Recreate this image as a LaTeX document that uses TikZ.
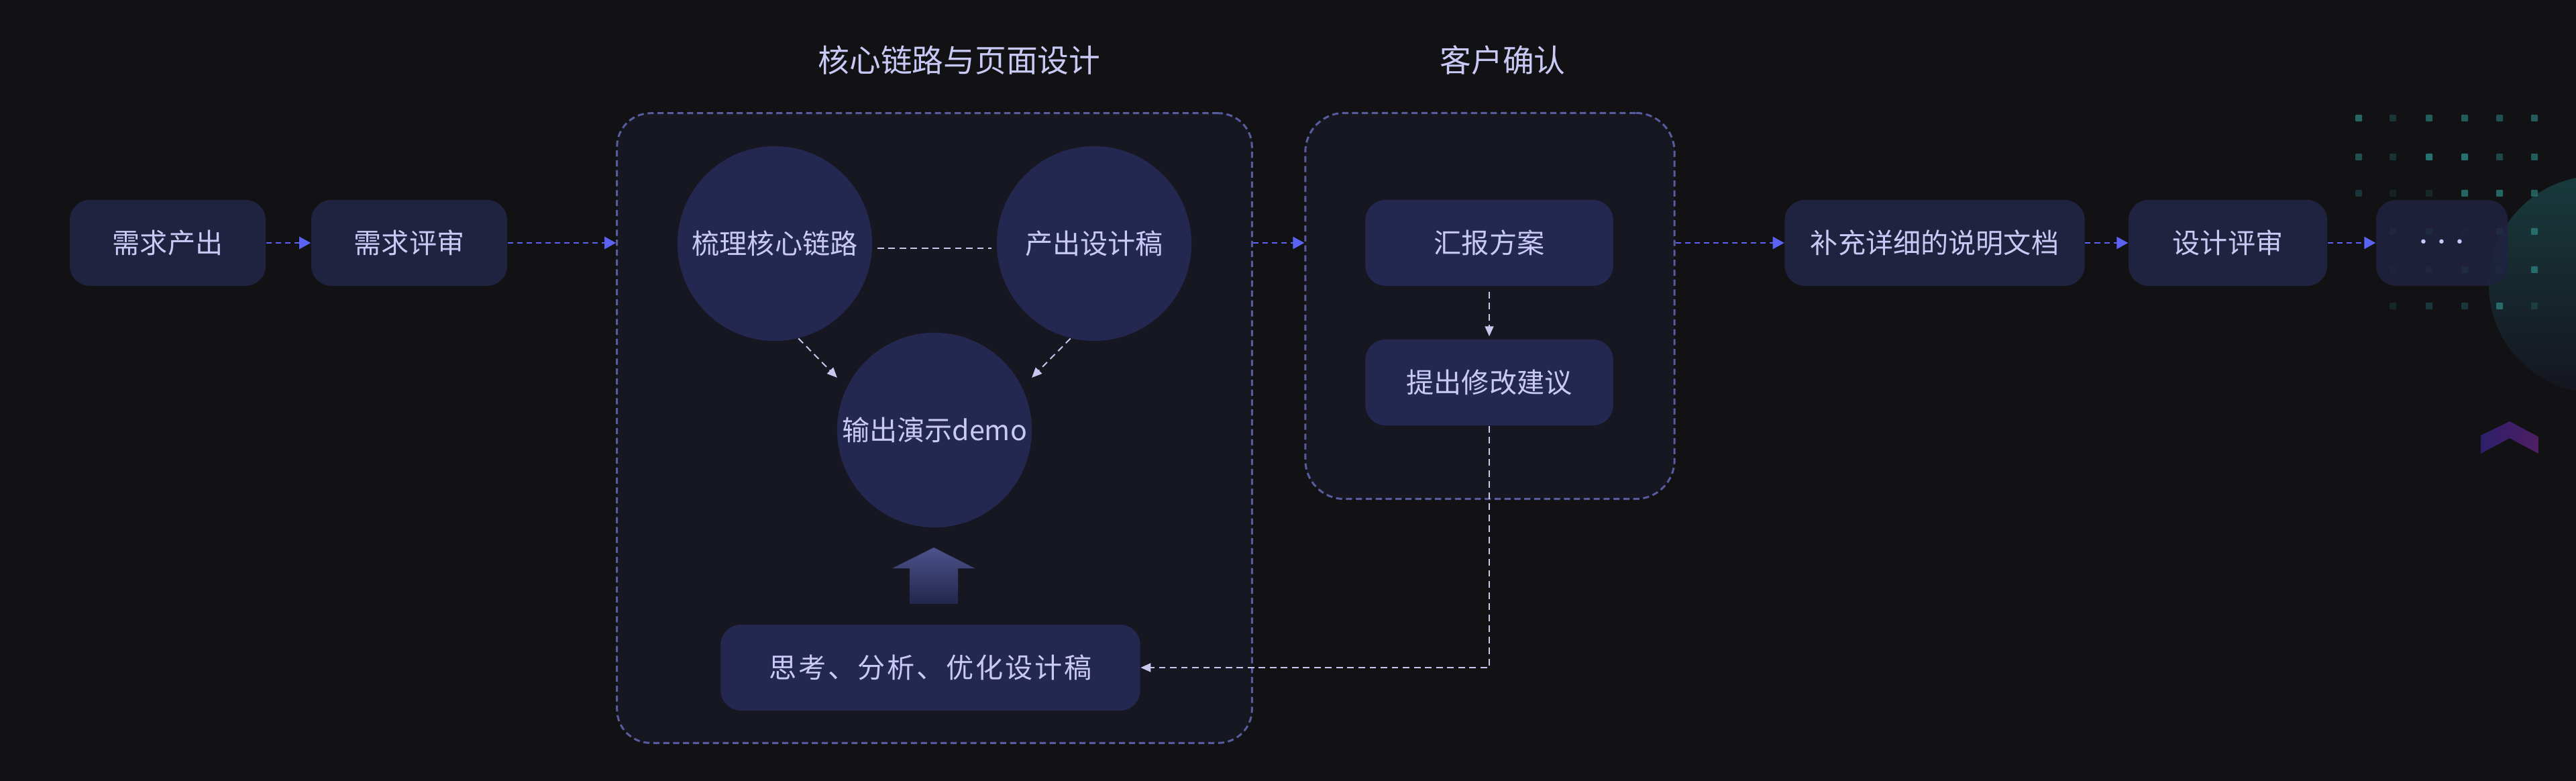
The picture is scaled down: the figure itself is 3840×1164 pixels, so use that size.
\documentclass[tikz,border=0pt]{standalone}
\usepackage{fontspec}
\setmainfont{Noto Sans CJK SC}
\usetikzlibrary{arrows.meta,calc}
\definecolor{bg}{HTML}{121215}
\definecolor{boxA}{HTML}{20233F}
\definecolor{boxB}{HTML}{242850}
\definecolor{grpfill}{HTML}{171722}
\definecolor{grpline}{HTML}{565C9E}
\definecolor{txt}{HTML}{C9C9F5}
\definecolor{flowc}{HTML}{5B63F5}
\definecolor{wl}{HTML}{C8C8EE}
\definecolor{dotc}{HTML}{2A7C7A}
\definecolor{arrtop}{HTML}{4C528C}
\definecolor{arrbot}{HTML}{23274C}
\definecolor{tealtop}{HTML}{183A3C}
\definecolor{tealbot}{HTML}{15151F}
\definecolor{chevL}{HTML}{2E1F6B}
\definecolor{chevR}{HTML}{4E1F62}
\newcommand{\bodyfnt}{\fontsize{11.7}{14}\selectfont}
\newcommand{\titlefnt}{\fontsize{13.3}{16}\selectfont}
\newcommand{\dotsfnt}{\fontsize{19}{19}\selectfont}
\tikzset{
  flowbox/.style={rectangle, rounded corners=0.3cm, fill=boxA, text=txt,
    minimum height=1.28cm, inner sep=0pt, font=\bodyfnt},
  innerbox/.style={flowbox, fill=boxB},
  bubble/.style={circle, fill=boxB, minimum size=2.9cm, inner sep=0pt,
    text=txt, font=\bodyfnt},
  group/.style={rectangle, draw=grpline, fill=grpfill, line width=0.85pt,
    dash pattern=on 2.6pt off 1.6pt, inner sep=0pt},
  flow/.style={draw=flowc, line width=0.75pt, dash pattern=on 2.3pt off 1.7pt,
    -{Triangle[length=0.17cm,width=0.18cm]}},
  wlink/.style={draw=wl, line width=0.55pt, dash pattern=on 2.8pt off 1.9pt},
  warrow/.style={wlink, -{Triangle[length=0.15cm,width=0.13cm]}},
  grptitle/.style={text=txt, font=\titlefnt, inner sep=0pt},
}
\begin{document}
\begin{tikzpicture}[x=0.01cm,y=-0.01cm]
\fill[bg] (0,0) rectangle (3840,1164);
\useasboundingbox (0,0) rectangle (3840,1164);
\clip (0,0) rectangle (3840,1164);

% decoration: teal circle, dot grid, chevron
\shade[top color=tealtop, bottom color=tealbot] (3872,424) circle[radius=1.62cm];
\foreach \x/\y/\o in {3516/176/0.8,3567/176/0.35,3621/176/0.7,3674/176/0.7,3726/176/0.6,3778/176/0.7,
  3516/234/0.6,3567/234/0.3,3621/234/0.9,3674/234/0.9,3726/234/0.5,3778/234/0.7,
  3516/288/0.35,3567/288/0.15,3621/288/0.2,3674/288/0.8,3726/288/0.8,3778/288/0.7,
  3567/345/0.4,3621/345/0.7,3674/345/0.2,3726/345/0.8,3778/345/0.8,
  3567/402/0.3,3621/402/0.4,3674/402/0.8,3726/402/0.4,3778/402/0.8,
  3567/456/0.2,3621/456/0.35,3674/456/0.35,3726/456/0.8,3778/456/0.3}
  \fill[dotc, opacity=\o, rounded corners=0.01cm] (\x-5,\y-5) rectangle (\x+5,\y+5);
\shade[left color=chevL, right color=chevR]
  (3698,649) -- (3741,628) -- (3784,651) -- (3784,676) -- (3741,653) -- (3698,676) -- cycle;

% group containers
\node[group, rounded corners=0.5cm, minimum width=9.46cm, minimum height=9.38cm] (A) at (1393,638) {};
\node[group, rounded corners=0.58cm, minimum width=5.5cm, minimum height=5.75cm] (B) at (2221,456) {};
\node[grptitle] (tA) at (1430,90) {核心链路与页面设计};
\node[grptitle] (tB) at (2240,90) {客户确认};

% main flow boxes
\node[flowbox, minimum width=2.92cm] (n1) at (250,362) {需求产出};
\node[flowbox, minimum width=2.92cm] (n2) at (610,362) {需求评审};
\node[flowbox, minimum width=4.47cm] (n5) at (2884,362) {补充详细的说明文档};
\node[flowbox, minimum width=2.96cm] (n6) at (3321,362) {设计评审};
\node[flowbox, minimum width=1.96cm, fill opacity=0.88, text opacity=1, font=\dotsfnt] (n7) at (3640,362) {$\cdots$};

% core chain group
\node[bubble] (c1) at (1155,363) {梳理核心链路};
\node[bubble] (c2) at (1631,363) {产出设计稿};
\node[bubble] (c3) at (1393,641) {输出演示demo};
\node[innerbox, minimum width=6.25cm] (bb) at (1387,995) {\addfontfeature{LetterSpace=7}思考、分析、优化设计稿};
\shade[top color=arrtop, bottom color=arrbot]
  (1392,816) -- (1453,847) -- (1428,847) -- (1428,900) -- (1356,900) -- (1356,847) -- (1330,847) -- cycle;

% client group
\node[innerbox, minimum width=3.69cm] (h1) at (2220,362) {汇报方案};
\node[innerbox, minimum width=3.69cm] (h2) at (2220,570) {提出修改建议};

% connectors
\draw[flow] (n1.east) -- (n2.west);
\draw[flow] (n2.east) -- (n2.east -| A.west);
\draw[flow] (A.east |- h1.west) -- (h1.west -| B.west);
\draw[flow] (B.east |- h1.east) -- (n5.west);
\draw[flow] (n5.east) -- (n6.west);
\draw[flow] (n6.east) -- (n7.west);

\draw[wlink, shorten <=0.07cm, shorten >=0.07cm] ($(c1.east)+(0,7)$) -- ($(c2.west)+(0,7)$);
\draw[warrow, shorten >=0.2cm] (c1.-76) -- (c3.154);
\draw[warrow, shorten >=0.2cm] (c2.-104) -- (c3.26);
\draw[warrow, shorten <=0.08cm, shorten >=0.04cm] (h1.south) -- (h2.north);
\draw[warrow] (h2.south) |- (bb.east);
\end{tikzpicture}
\end{document}
